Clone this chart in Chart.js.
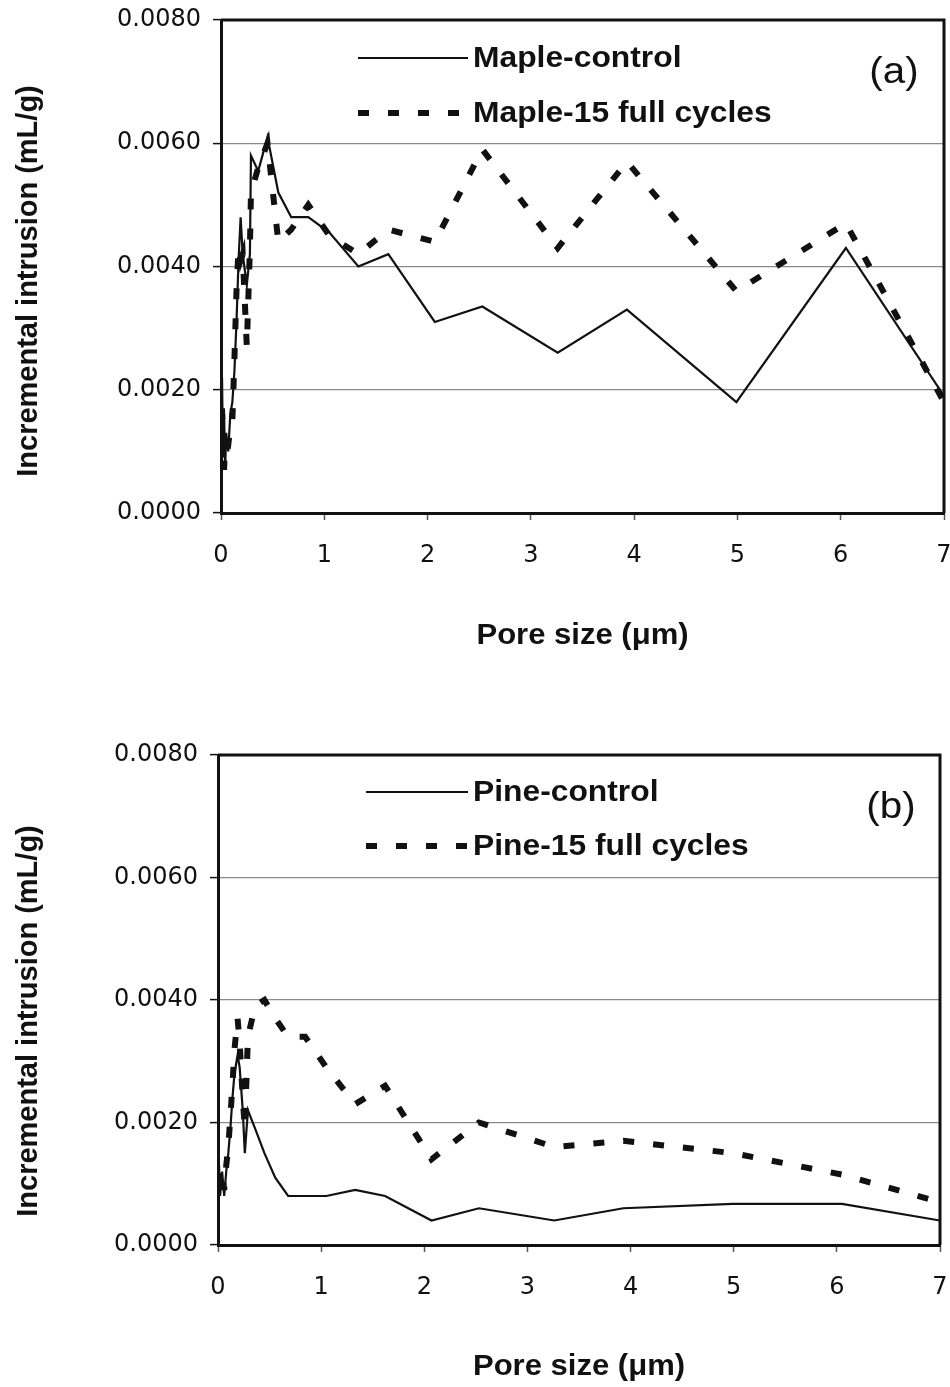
<!DOCTYPE html>
<html>
<head>
<meta charset="utf-8">
<script src="https://cdn.jsdelivr.net/npm/chart.js@4.4.0/dist/chart.umd.min.js"></script>
<style>
  html, body { margin: 0; padding: 0; background: #fff; }
  canvas { display: block; }
</style>
</head>
<body>
<canvas id="chartA" width="950" height="693"></canvas>
<canvas id="chartB" width="950" height="694"></canvas>
<script>
// pore size (um) and incremental intrusion (mL/g)
const poreSizeA = [0.01, 0.02, 0.03, 0.04, 0.05, 0.07, 0.09, 0.11, 0.13, 0.15, 0.17, 0.19, 0.21, 0.25, 0.28, 0.29,
  0.36, 0.45, 0.555, 0.68, 0.845, 1.05, 1.33, 1.62, 2.07, 2.53, 3.26, 3.93, 4.99, 6.05, 7.0];
const mapleControl = [0.0022, 0.0009, 0.0016, 0.0007, 0.0013, 0.0010, 0.0016, 0.0018, 0.0023, 0.0031, 0.0041, 0.0048,
  0.0042, 0.0037, 0.0042, 0.0058, 0.00555, 0.0061, 0.0052, 0.0048, 0.0048, 0.00455, 0.0040, 0.0042, 0.0031, 0.00335,
  0.0026, 0.0033, 0.0018, 0.0043, 0.0019];
const mapleCycled = [0.0017, 0.0011, 0.0007, 0.0012, 0.0009, 0.0011, 0.0014, 0.0015, 0.0025, 0.0036, 0.0043, 0.0041,
  0.0042, 0.0027, 0.0043, 0.0052, 0.0056, 0.0060, 0.0044, 0.0046, 0.0050, 0.0045, 0.0042, 0.0046, 0.0044, 0.0059,
  0.0043, 0.0057, 0.0036, 0.0047, 0.0018];

const poreSizeB = [0.0, 0.01, 0.02, 0.04, 0.06, 0.08, 0.10, 0.12, 0.14, 0.16, 0.19, 0.21, 0.24, 0.26, 0.29,
  0.36, 0.45, 0.555, 0.68, 0.845, 1.05, 1.33, 1.62, 2.07, 2.53, 3.26, 3.93, 4.99, 6.05, 7.0];
const pineControl = [0.0002, 0.0013, 0.0008, 0.0012, 0.0008, 0.0012, 0.0015, 0.0019, 0.0024, 0.0028, 0.0031, 0.0029,
  0.0022, 0.0015, 0.0022, 0.0019, 0.0015, 0.0011, 0.0008, 0.0008, 0.0008, 0.0009, 0.0008, 0.0004, 0.0006, 0.0004,
  0.0006, 0.00067, 0.00067, 0.0004];
const pineCycled = [0.0010, 0.0012, 0.0009, 0.0012, 0.0009, 0.0013, 0.0016, 0.0021, 0.0026, 0.0032, 0.0037, 0.0033,
  0.0024, 0.0019, 0.0034, 0.0039, 0.0040, 0.0037, 0.0034, 0.0034, 0.0029, 0.0023, 0.0026, 0.0014, 0.0020, 0.0016,
  0.0017, 0.0015, 0.00115, 0.0007];

const xTicks = [0, 1, 2, 3, 4, 5, 6, 7];
const yTicks = [0, 0.002, 0.004, 0.006, 0.008];
const xTitle = 'Pore size (\u03bcm)';
const yTitle = 'Incremental intrusion (mL/g)';

const SANS = '"Liberation Sans", Arial, sans-serif';
const TICK_FONT = { family: '"DejaVu Sans", sans-serif', size: 24 };

function pts(xs, ys) {
  return xs.map((x, i) => ({ x: x, y: ys[i] }));
}

// text with a small horizontal stretch (the scanned figure is a bit wide)
function stretchText(ctx, text, x, y, font, align, sx) {
  ctx.save();
  ctx.font = font;
  ctx.textAlign = align;
  ctx.textBaseline = 'middle';
  ctx.translate(x, y);
  ctx.scale(sx, 1);
  ctx.fillText(text, 0, 0);
  ctx.restore();
}

// keep tick labels from pushing the plot area in
function noSidePad(s) {
  s.paddingLeft = 0;
  s.paddingRight = 0;
  s.paddingTop = 0;
  s.paddingBottom = 0;
}

const decor = {
  id: 'decor',
  afterDraw(chart) {
    const cfg = chart.options.plugins.decor;
    const { ctx, chartArea: a } = chart;
    ctx.save();
    ctx.strokeStyle = '#111';
    ctx.fillStyle = '#111';
    // top + right frame
    ctx.lineWidth = 3;
    ctx.beginPath();
    ctx.moveTo(a.left, a.top);
    ctx.lineTo(a.right, a.top);
    ctx.lineTo(a.right, a.bottom);
    ctx.stroke();

    // legend inside the plot
    chart.data.datasets.forEach((ds, i) => {
      const y = cfg.legendY[i];
      ctx.lineWidth = ds.borderWidth;
      ctx.setLineDash(ds.borderDash || []);
      ctx.beginPath();
      ctx.moveTo(cfg.legendX0, y);
      ctx.lineTo(cfg.legendX1, y);
      ctx.stroke();
      ctx.setLineDash([]);
      stretchText(ctx, ds.label, cfg.legendX1 + 5, y + 1, 'bold 30px ' + SANS, 'left', 1.06);
    });

    // panel tag
    stretchText(ctx, cfg.tag, cfg.tagX, cfg.tagY, '36px ' + SANS, 'center', 1.12);

    // axis titles
    stretchText(ctx, xTitle, (a.left + a.right) / 2, cfg.xTitleY, 'bold 29px ' + SANS, 'center', 1.07);
    ctx.save();
    ctx.translate(29, cfg.yTitleY);
    ctx.rotate(-Math.PI / 2);
    ctx.font = 'bold 29px ' + SANS;
    ctx.textAlign = 'center';
    ctx.textBaseline = 'middle';
    ctx.fillText(yTitle, 0, 0);
    ctx.restore();
    ctx.restore();
  }
};

function makePanel(id, xs, solid, dashed, labels, p) {
  new Chart(document.getElementById(id), {
    type: 'line',
    data: {
      datasets: [
        { label: labels[0], data: pts(xs, solid), borderColor: '#111', borderWidth: 2.2,
          pointRadius: 0, tension: 0, fill: false },
        { label: labels[1], data: pts(xs, dashed), borderColor: '#111', borderWidth: 6,
          borderDash: [11, 19], borderCapStyle: 'butt', pointRadius: 0, tension: 0, fill: false }
      ]
    },
    options: {
      responsive: false,
      animation: false,
      devicePixelRatio: 1,
      layout: { autoPadding: false, padding: { top: p.top, right: p.right, bottom: 0, left: 0 } },
      plugins: {
        legend: { display: false },
        tooltip: { enabled: false },
        decor: p
      },
      scales: {
        x: {
          type: 'linear', min: 0, max: 7,
          afterBuildTicks: s => { s.ticks = xTicks.map(v => ({ value: v })); },
          afterFit: s => { s.height = p.xHeight; noSidePad(s); },
          ticks: { color: '#111', font: TICK_FONT, padding: 21, maxRotation: 0 },
          grid: { drawOnChartArea: false, tickLength: 7, tickColor: '#555', tickWidth: 1.5 },
          border: { color: '#111', width: 3 }
        },
        y: {
          min: 0, max: 0.008,
          afterBuildTicks: s => { s.ticks = yTicks.map(v => ({ value: v })); },
          afterFit: s => { s.width = p.yWidth; noSidePad(s); },
          ticks: { color: '#111', font: TICK_FONT, padding: 12, callback: v => v.toFixed(4) },
          grid: { color: '#8a8a8a', lineWidth: 1.2, tickLength: 8, tickColor: '#111', tickWidth: 1.5 },
          border: { color: '#111', width: 3 }
        }
      }
    },
    plugins: [decor]
  });
}

makePanel('chartA', poreSizeA, mapleControl, mapleCycled, ['Maple-control', 'Maple-15 full cycles'], {
  top: 20, right: 6, xHeight: 180, yWidth: 221,
  legendX0: 358, legendX1: 468, legendY: [58, 113],
  tag: '(a)', tagX: 894, tagY: 73, xTitleY: 636, yTitleY: 281
});

makePanel('chartB', poreSizeB, pineControl, pineCycled, ['Pine-control', 'Pine-15 full cycles'], {
  top: 62, right: 10, xHeight: 142, yWidth: 218,
  legendX0: 366, legendX1: 468, legendY: [99, 153],
  tag: '(b)', tagX: 891, tagY: 115, xTitleY: 674, yTitleY: 328
});
</script>
</body>
</html>
